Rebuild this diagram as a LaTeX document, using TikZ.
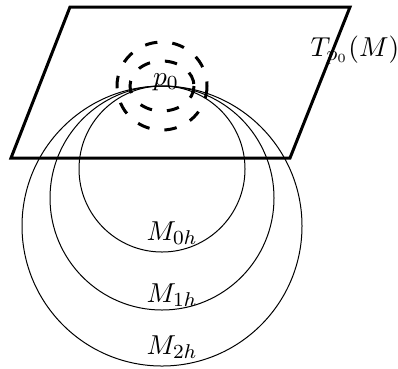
\documentclass[tikz,border=0pt]{standalone}
\begin{document}
\begin{tikzpicture}[x=0.4pt,y=-0.4pt,every node/.style={font=\fontsize{11}{13}\selectfont}]
\tikzset{plane/.style={very thick},
  ball/.style={very thick,dash pattern=on 5pt off 6pt}}
\useasboundingbox (0,0) rectangle (398,368);
\draw[plane] (70,7) -- (350,7) -- (290,158) -- (11,158) -- cycle;
\draw (162,169) circle (83);
\draw (162,198) circle (112);
\draw (162,226) circle (140);
\draw[ball] (162,86) ellipse (45 and 44);
\draw[ball] (162,86) ellipse (32 and 25);
\node (p0) at (166,82) {$p_0$};
\node (tp) at (355,50) {$T_{p_0}(M)$};
\node (m0) at (172,233) {$M_{0h}$};
\node (m1) at (172,295) {$M_{1h}$};
\node (m2) at (172,347) {$M_{2h}$};
\end{tikzpicture}
\end{document}
